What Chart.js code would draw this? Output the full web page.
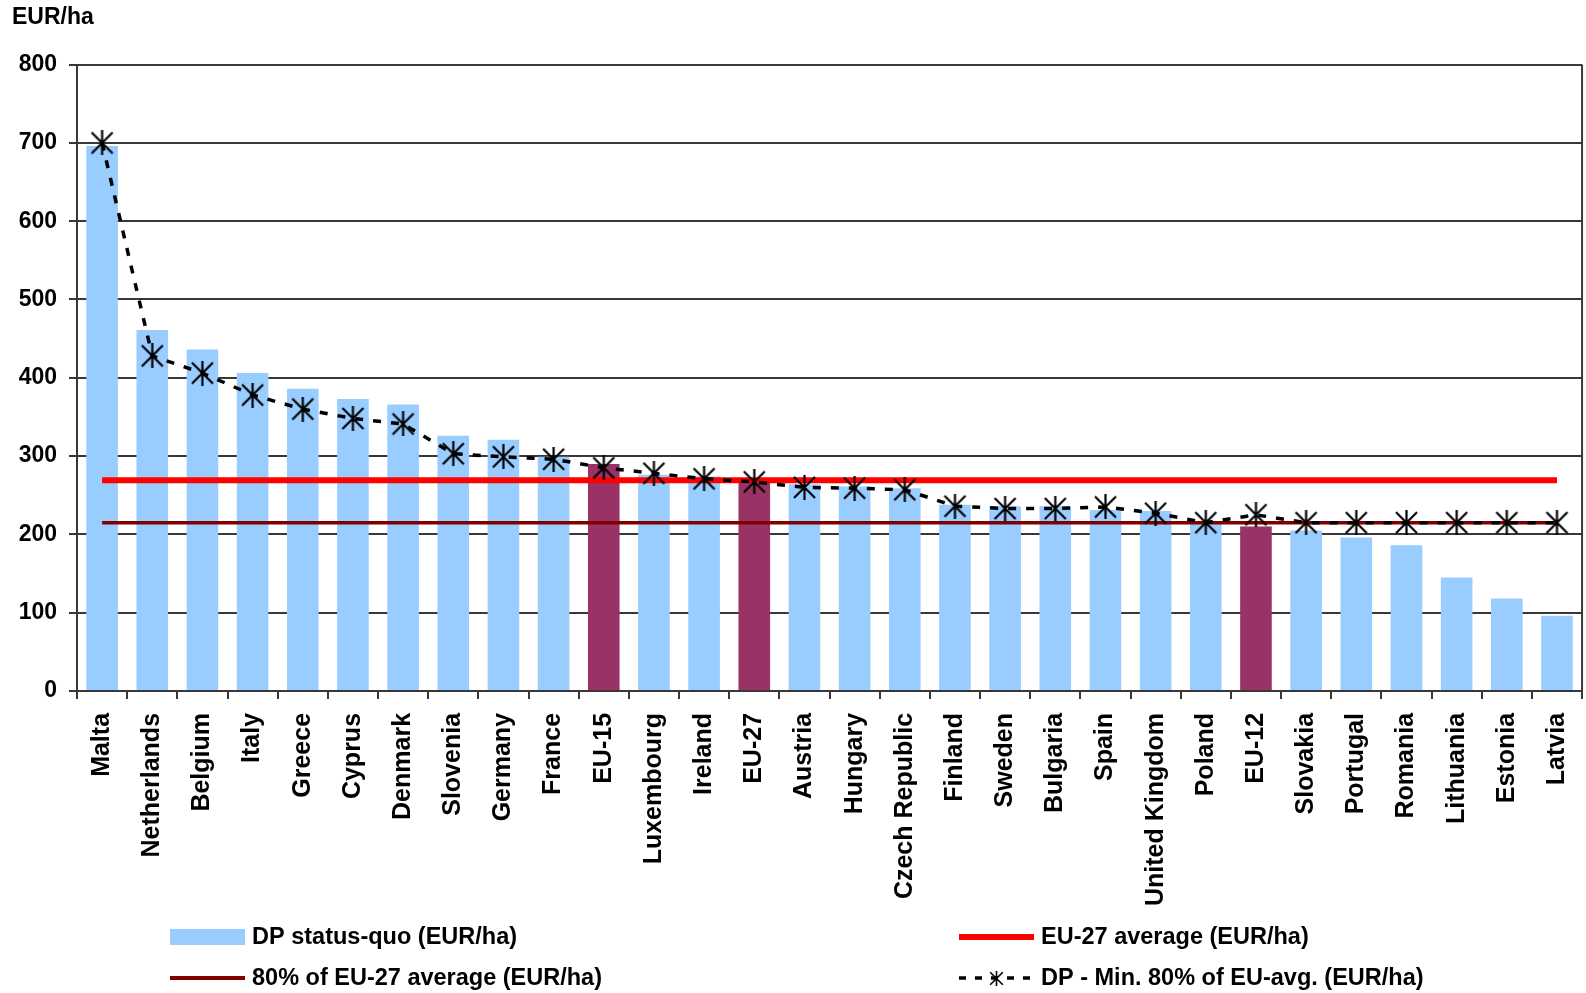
<!DOCTYPE html>
<html>
<head>
<meta charset="utf-8">
<title>DP status-quo (EUR/ha)</title>
<script src="https://cdn.jsdelivr.net/npm/chart.js@4.4.1/dist/chart.umd.min.js"></script>
<style>
  html, body { margin: 0; padding: 0; background: #fff; overflow: hidden; }
  canvas { display: block; }
</style>
</head>
<body>
<canvas id="chart" width="1586" height="993"></canvas>
<script>
// Data

const categories = ['Malta', 'Netherlands', 'Belgium', 'Italy', 'Greece', 'Cyprus', 'Denmark',
    'Slovenia', 'Germany', 'France', 'EU-15', 'Luxembourg', 'Ireland', 'EU-27', 'Austria',
    'Hungary', 'Czech Republic', 'Finland', 'Sweden', 'Bulgaria', 'Spain', 'United Kingdom',
    'Poland', 'EU-12', 'Slovakia', 'Portugal', 'Romania', 'Lithuania', 'Estonia', 'Latvia'];

const dpStatusQuo = [696, 461, 436, 406, 386, 373, 366, 326, 321, 299, 290, 276, 274, 269, 264,
    261, 259, 238, 236, 236, 231, 230, 217, 210, 205, 196, 186, 145, 118, 96];

const dpMin80 = [700, 428, 406, 378, 360, 348, 341, 303, 299, 296, 285, 278, 271, 267, 260,
    259, 257, 236, 233, 233, 235, 227, 215, 225, 215, 215, 215, 215, 215, 215];

const eu27Average = 269;
const eu27Average80 = 215;

const aggregates = ['EU-15', 'EU-27', 'EU-12'];

const yTicks = [0, 100, 200, 300, 400, 500, 600, 700, 800];

const seriesLabels = ['DP status-quo (EUR/ha)', 'EU-27 average (EUR/ha)',
    '80% of EU-27 average (EUR/ha)', 'DP - Min. 80% of EU-avg. (EUR/ha)'];

const FONT = '"Liberation Sans", Arial, sans-serif';
const BLUE = '#99CCFF';
const PLUM = '#993366';
const RED = '#FF0000';
const DARK_RED = '#800000';
const GRID = '#383838';

// Asterisk marker (vertical bar + X), like the spreadsheet "star" marker
function makeStar(size, lw) {
    const c = document.createElement('canvas');
    c.width = size;
    c.height = size;
    const g = c.getContext('2d');
    g.strokeStyle = '#000';
    g.lineWidth = lw;
    const m = size / 2;
    const d = size * 0.42;
    g.beginPath();
    g.moveTo(m, 0); g.lineTo(m, size);
    g.moveTo(m - d, m - d); g.lineTo(m + d, m + d);
    g.moveTo(m + d, m - d); g.lineTo(m - d, m + d);
    g.stroke();
    return c;
}
const star = makeStar(25, 2.2);
const smallStar = makeStar(15, 1.6);

// Legend in two columns below the axis, plus the right frame of the plot area
const frameAndLegend = {
    id: 'frameAndLegend',
    afterDatasetsDraw(chart) {
        const { ctx, chartArea } = chart;
        ctx.save();
        ctx.strokeStyle = GRID;
        ctx.lineWidth = 2;
        ctx.beginPath();
        ctx.moveTo(chartArea.right, chartArea.top);
        ctx.lineTo(chartArea.right, chartArea.bottom);
        ctx.stroke();
        ctx.restore();
    },
    afterDraw(chart) {
        const ctx = chart.ctx;
        const items = [
            { x: 170, y: 937, kind: 'box' },
            { x: 959, y: 937, kind: 'red' },
            { x: 170, y: 978, kind: 'darkred' },
            { x: 959, y: 978, kind: 'dashed' }
        ];
        ctx.save();
        ctx.font = 'bold 23.5px ' + FONT;
        ctx.textBaseline = 'middle';
        items.forEach((it, i) => {
            if (it.kind === 'box') {
                ctx.fillStyle = BLUE;
                ctx.fillRect(it.x, it.y - 8, 75, 16);
            } else if (it.kind === 'dashed') {
                ctx.strokeStyle = '#000';
                ctx.lineWidth = 3.5;
                ctx.setLineDash([7, 9]);
                ctx.beginPath();
                ctx.moveTo(it.x, it.y);
                ctx.lineTo(it.x + 75, it.y);
                ctx.stroke();
                ctx.setLineDash([]);
                ctx.drawImage(smallStar, it.x + 37 - 7, it.y - 7);
            } else {
                ctx.strokeStyle = it.kind === 'red' ? RED : DARK_RED;
                ctx.lineWidth = it.kind === 'red' ? 6 : 4;
                ctx.beginPath();
                ctx.moveTo(it.x, it.y);
                ctx.lineTo(it.x + 75, it.y);
                ctx.stroke();
            }
            ctx.fillStyle = '#000';
            ctx.fillText(seriesLabels[i], it.x + 82, it.y + 1);
        });
        ctx.restore();
    }
};

const ctx = document.getElementById('chart').getContext('2d');

new Chart(ctx, {
    type: 'bar',
    data: {
        labels: categories,
        datasets: [
            {
                type: 'line',
                label: seriesLabels[3],
                data: dpMin80,
                borderColor: '#000',
                borderWidth: 3.5,
                borderDash: [8, 10],
                pointStyle: star,
                pointRadius: 12,
                fill: false,
                order: 1
            },
            {
                type: 'line',
                label: seriesLabels[1],
                data: categories.map(() => eu27Average),
                borderColor: RED,
                borderWidth: 6,
                pointRadius: 0,
                fill: false,
                order: 2
            },
            {
                type: 'line',
                label: seriesLabels[2],
                data: categories.map(() => eu27Average80),
                borderColor: DARK_RED,
                borderWidth: 3.5,
                pointRadius: 0,
                fill: false,
                order: 3
            },
            {
                label: seriesLabels[0],
                data: dpStatusQuo,
                backgroundColor: categories.map(c => aggregates.includes(c) ? PLUM : BLUE),
                categoryPercentage: 1,
                barPercentage: 0.63,
                order: 4
            }
        ]
    },
    options: {
        responsive: false,
        animation: false,
        layout: {
            autoPadding: false,
            padding: { left: 12, right: 2, top: 0, bottom: 73 }
        },
        plugins: {
            legend: { display: false },
            tooltip: { enabled: false },
            title: {
                display: true,
                text: 'EUR/ha',
                align: 'start',
                color: '#000',
                font: { family: FONT, size: 23, weight: 'bold' },
                padding: { top: 4, bottom: 33 }
            }
        },
        scales: {
            x: {
                grid: {
                    drawOnChartArea: false,
                    drawTicks: true,
                    tickLength: 8,
                    color: GRID,
                    lineWidth: 2
                },
                border: { color: GRID, width: 2 },
                ticks: {
                    color: '#000',
                    // small lineHeight keeps the last rotated label from padding the right edge
                    font: { family: FONT, size: 25, weight: 'bold', lineHeight: 0.6 },
                    minRotation: 90,
                    maxRotation: 90,
                    autoSkip: false,
                    padding: 14
                }
            },
            y: {
                min: 0,
                max: 800,
                afterFit: scale => { scale.width = 65; },
                afterBuildTicks: scale => { scale.ticks = yTicks.map(v => ({ value: v })); },
                grid: {
                    color: GRID,
                    lineWidth: 2,
                    tickLength: 8
                },
                border: { color: GRID, width: 2 },
                ticks: {
                    color: '#000',
                    font: { family: FONT, size: 23, weight: 'bold' },
                    padding: 12
                }
            }
        }
    },
    plugins: [frameAndLegend]
});
</script>
</body>
</html>
